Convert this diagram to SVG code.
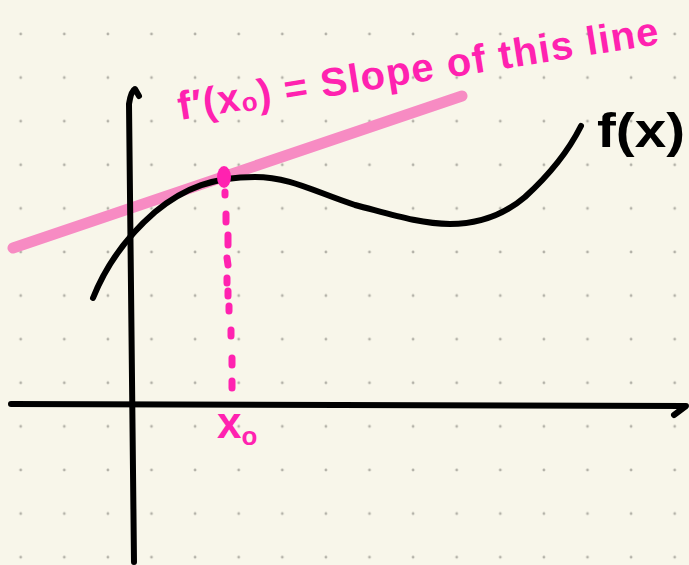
<svg xmlns="http://www.w3.org/2000/svg" width="689" height="565" viewBox="0 0 689 565">
<style>
.ink{fill:none;stroke:#000;stroke-width:6;stroke-linecap:round;stroke-linejoin:round}
.mag{fill:none;stroke:#ff22b0;stroke-width:7;stroke-linecap:round}
.hand{font-family:"Liberation Sans","DejaVu Sans",sans-serif;font-weight:bold}
</style>
<defs>
<pattern id="dots" patternUnits="userSpaceOnUse" x="-1.1" y="12.2" width="43.6" height="43.6">
<circle cx="21.8" cy="21.8" r="1.4" fill="#b3b1a8"/>
</pattern>
</defs>
<rect width="689" height="565" fill="#f8f6ea"/>
<rect width="689" height="565" fill="url(#dots)"/>
<g id="tangent">
<line x1="13" y1="248" x2="462" y2="96" stroke="#f78bc3" stroke-width="11" stroke-linecap="round"/>
</g>
<g id="axes">
<path class="ink" d="M134,562 L129,104 Q131,91 135,89 L139,96"/>
<path class="ink" d="M11,404 L686,406 L674,415"/>
</g>
<g id="curve">
<path class="ink" d="M93,298 C105,268 125,238 155,212 C185,187 215,177 255,177 C290,177 315,192 355,205 C390,214 420,224 450,224 C480,224 505,214 525,197 C548,176 568,152 581,126"/>
</g>
<g id="dashes">
<ellipse cx="224" cy="177" rx="7" ry="11" fill="#ff22b0"/>
<path class="mag" d="M225,192 L225,195 M226,214 L226,222 M228,235 L228,245 M227,258 L228,265 M227,278 L227,283 M228,291 L228,296 M229,306 L229,311 M231,330 L231,336 M232,358 L232,365 M232,381 L232,388"/>
</g>
<g id="labels">
<text class="hand" x="180" y="120" font-size="40" fill="#ff22b0" transform="rotate(-9 180 120)" textLength="486" lengthAdjust="spacing">f′(x<tspan font-size="26" dy="2">o</tspan><tspan dy="-2">) = Slope of this line</tspan></text>
<text class="hand" x="217" y="438" font-size="44" fill="#ff22b0">x<tspan font-size="26" dy="7">o</tspan></text>
<text class="hand" x="597" y="147" font-size="48" fill="#000" textLength="88" lengthAdjust="spacingAndGlyphs">f(x)</text>
</g>
</svg>
